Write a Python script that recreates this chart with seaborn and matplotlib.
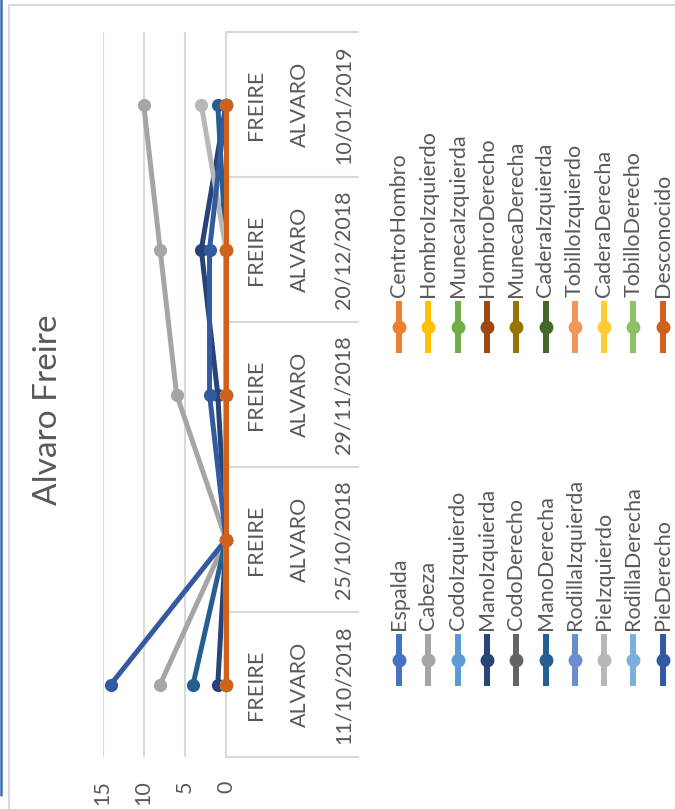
import matplotlib
matplotlib.use("Agg")
import matplotlib.pyplot as plt
import matplotlib.transforms as mtransforms
from matplotlib.lines import Line2D
import pandas as pd
import seaborn as sns

# ---- data -------------------------------------------------------------
fechas = ["11/10/2018", "25/10/2018", "29/11/2018", "20/12/2018", "10/01/2019"]
nombre = "ALVARO"
apellido = "FREIRE"
titulo = "Alvaro Freire"

series = [
    "Espalda", "CentroHombro", "Cabeza", "HombroIzquierdo", "CodoIzquierdo",
    "MunecaIzquierda", "ManoIzquierda", "HombroDerecho", "CodoDerecho",
    "MunecaDerecha", "ManoDerecha", "CaderaIzquierda", "RodillaIzquierda",
    "TobilloIzquierdo", "PieIzquierdo", "CaderaDerecha", "RodillaDerecha",
    "TobilloDerecho", "PieDerecho", "Desconocido",
]
colores = [
    "#4472C4", "#ED7D31", "#A5A5A5", "#FFC000", "#5B9BD5",
    "#70AD47", "#264478", "#9E480E", "#636363", "#997300",
    "#255E91", "#43682B", "#698ED0", "#F1975A", "#B7B7B7",
    "#FFCD33", "#7CAFDD", "#8CC168", "#335AA1", "#D0611A",
]

espalda = [0, 0, 0, 0, 0]
centro_hombro = [0, 0, 0, 0, 0]
cabeza = [8, 0, 6, 8, 10]
hombro_izq = [0, 0, 0, 0, 0]
codo_izq = [0, 0, 0, 0, 0]
muneca_izq = [0, 0, 0, 0, 0]
mano_izq = [1, 0, 1, 3, 0]
hombro_der = [0, 0, 0, 0, 0]
codo_der = [0, 0, 0, 0, 0]
muneca_der = [0, 0, 0, 0, 0]
mano_der = [4, 0, 0, 0, 1]
cadera_izq = [0, 0, 0, 0, 0]
rodilla_izq = [0, 0, 0, 0, 0]
tobillo_izq = [0, 0, 0, 0, 0]
pie_izq = [0, 0, 0, 0, 3]
cadera_der = [0, 0, 0, 0, 0]
rodilla_der = [0, 0, 0, 0, 0]
tobillo_der = [0, 0, 0, 0, 0]
pie_der = [14, 0, 2, 2, 0]
desconocido = [0, 0, 0, 0, 0]

valores = [
    espalda, centro_hombro, cabeza, hombro_izq, codo_izq, muneca_izq,
    mano_izq, hombro_der, codo_der, muneca_der, mano_der, cadera_izq,
    rodilla_izq, tobillo_izq, pie_izq, cadera_der, rodilla_der,
    tobillo_der, pie_der, desconocido,
]
ticks_valor = [0, 5, 10, 15]

# ---- long table -------------------------------------------------------
filas = []
for nom, vals in zip(series, valores):
    for i, v in enumerate(vals):
        filas.append({"serie": nom, "pos": i, "valor": v})
df = pd.DataFrame(filas)

# ---- style ------------------------------------------------------------
sns.set_theme(style="white")
plt.rcParams["font.family"] = ["Lato", "DejaVu Sans"]
GRIS_TXT = "#595959"
GRIS_LIN = "#D9D9D9"
FS = 15.5

W, H = 675, 809
fig = plt.figure(figsize=(W / 100, H / 100), dpi=100)


def fx(px):
    return px / W


def fy(py):
    return 1 - py / H


# plot area: value axis runs right-to-left, categories bottom-to-top
x0, x_zero, x15, x_right = 102.5, 226.0, 102.5, 358.0
y_top, y_bot = 32.0, 757.0
ppu = (x_zero - x15) / 15.0
ax = fig.add_axes([fx(x0), fy(y_bot), (x_right - x0) / W, (y_bot - y_top) / H])
ax.set_xlim(15, -(x_right - x_zero) / ppu)
ax.set_ylim(-0.5, len(fechas) - 0.5)

sns.lineplot(
    data=df, x="valor", y="pos", hue="serie", hue_order=series,
    palette=colores, orient="y", sort=True, errorbar=None,
    marker="o", markersize=9.5, markeredgewidth=0, linewidth=3.6,
    legend=False, ax=ax, zorder=3,
)

for s in ax.spines.values():
    s.set_visible(False)
ax.set_xlabel("")
ax.set_ylabel("")
ax.set_yticks([])
ax.set_xticks(ticks_valor)
ax.set_xticklabels([str(t) for t in ticks_valor], rotation=90,
                   color=GRIS_TXT, fontsize=FS)
ax.tick_params(axis="x", length=0, pad=17)
ax.grid(axis="x", color=GRIS_LIN, linewidth=1.5, zorder=0)
ax.set_axisbelow(True)

# category box: separators between dates
xmin_box = ax.get_xlim()[1]
for b in [k - 0.5 for k in range(len(fechas) + 1)]:
    ax.plot([0, xmin_box], [b, b], color=GRIS_LIN, linewidth=1.5,
            clip_on=False, zorder=1)

# multi-level category labels
tr = mtransforms.blended_transform_factory(ax.transAxes, ax.transData)
col_ape = (255.5 - x0) / (x_right - x0)
col_nom = (299.5 - x0) / (x_right - x0)
col_fec = (343.5 - x0) / (x_right - x0)
for i, f in enumerate(fechas):
    for cx, txt in ((col_ape, apellido), (col_nom, nombre), (col_fec, f)):
        ax.text(cx, i, txt, transform=tr, rotation=90, ha="center",
                va="center", color=GRIS_TXT, fontsize=FS)

# title
fig.text(fx(48), fy(410), titulo, rotation=90, ha="center", va="center",
         color=GRIS_TXT, fontsize=24, fontweight="normal")

# legend: two rows of vertical entries
leg_x0, leg_dx = 399.0, 29.3
grupos = [(series[0::2], colores[0::2], 660.0), (series[1::2], colores[1::2], 327.0)]
for noms, cols, ym in grupos:
    for k, (nom, col) in enumerate(zip(noms, cols)):
        xc = fx(leg_x0 + k * leg_dx)
        fig.add_artist(Line2D([xc, xc], [fy(ym - 26), fy(ym + 26)],
                              transform=fig.transFigure, color=col,
                              linewidth=4.3, solid_capstyle="butt"))
        fig.add_artist(Line2D([xc], [fy(ym)], transform=fig.transFigure,
                              marker="o", markersize=10, markeredgewidth=0,
                              color=col))
        fig.text(xc, fy(ym - 30), nom, rotation=90, ha="center", va="bottom",
                 color=GRIS_TXT, fontsize=FS)

# chart frame
fig.add_artist(Line2D([fx(9), fx(9), fx(W)], [fy(H), fy(5), fy(5)],
                      transform=fig.transFigure, color=GRIS_LIN, linewidth=1.5))
fig.add_artist(Line2D([fx(1), fx(1)], [fy(0), fy(795)],
                      transform=fig.transFigure, color="#3F6CB0", linewidth=1.8))

fig.savefig("out.png", dpi=100)
